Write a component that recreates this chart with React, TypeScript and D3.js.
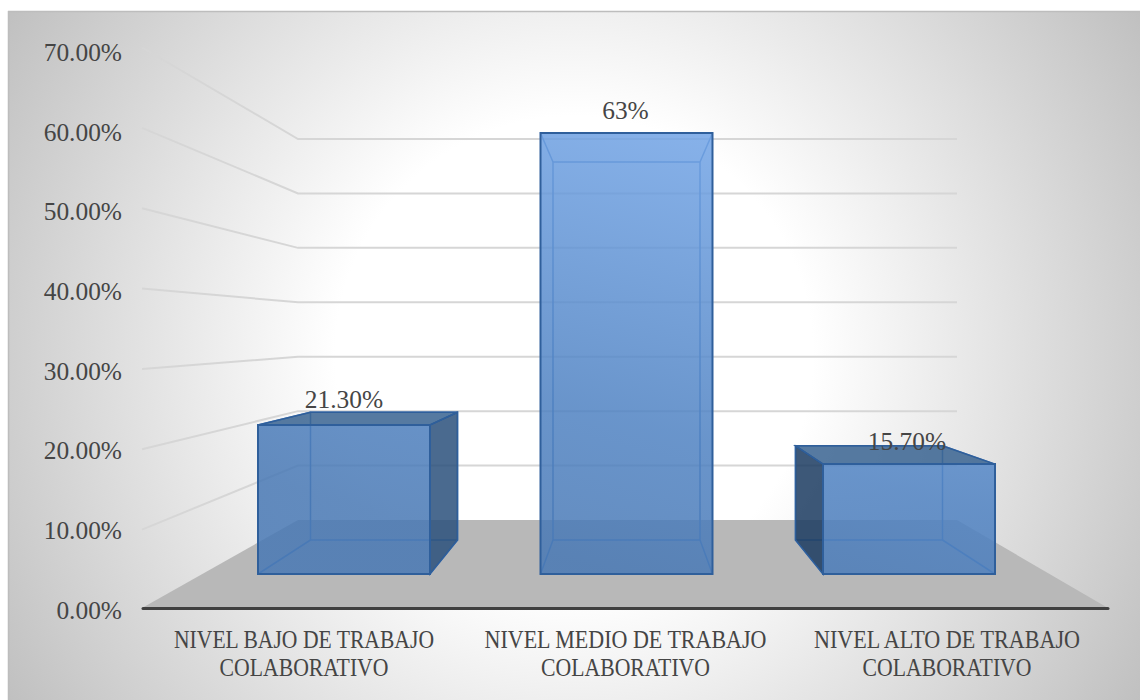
import React from "react";
import * as d3 from "d3";

const categories = ["NIVEL BAJO DE TRABAJO|COLABORATIVO", "NIVEL MEDIO DE TRABAJO|COLABORATIVO", "NIVEL ALTO DE TRABAJO|COLABORATIVO"];
const values = [21.3, 63, 15.7];
const valueLabels = ["21.30%", "63%", "15.70%"];
const ticks = [0, 10, 20, 30, 40, 50, 60, 70];
const firstLineWidths = [260, 282, 266];
const secondLineWidth = 169;

const W = 1140, H = 700;
const axisY = d3.scaleLinear().domain([0, 70]).range([610, 47.5]);
const labelY = d3.scaleLinear().domain([0, 70]).range([610, 52.5]);
const wallY = d3.scaleLinear().domain([0, 70]).range([520, 139]);
const barFrontY = d3.scaleLinear().domain([0, 70]).range([574, 84]);
const barBackY = d3.scaleLinear().domain([0, 70]).range([540, 120]);
const frontX = d3.scalePoint<string>().domain(categories).range([344, 909]);
const backX = d3.scalePoint<string>().domain(categories).range([384, 869]);
const labelX = d3.scalePoint<string>().domain(categories).range([304, 947]);
const FRONT_W = 172, BACK_W = 147;
const line = d3.line();
const poly = (p: [number, number][]) => line(p) + "Z";
const FONT = "'Liberation Serif', serif";
const TEXT = "#454545";

export default function App() {
  return (
    <svg width={W} height={H} style={{ position: "absolute", left: 0, top: 0 }}>
      <defs>
        <radialGradient id="bg" gradientUnits="userSpaceOnUse" cx={574} cy={355} r={663}>
          <stop offset="0.36" stopColor="#ffffff" />
          <stop offset="1" stopColor="#c0c0c0" />
        </radialGradient>
        <linearGradient id="front" gradientUnits="userSpaceOnUse" x1={760} y1={120} x2={640} y2={580}>
          <stop offset="0" stopColor="#75a7e9" />
          <stop offset="0.68" stopColor="#4f82c2" />
          <stop offset="1" stopColor="#4878b4" />
        </linearGradient>
      </defs>
      <rect x={8} y={11} width={W - 8} height={H - 11} fill="url(#bg)" />
      <line x1={8} y1={11.5} x2={W} y2={11.5} stroke="#bdbdbd" strokeWidth={1.5} />
      <line x1={8.5} y1={11} x2={8.5} y2={H} stroke="#bdbdbd" strokeWidth={1.5} />

      <path d={poly([[142, 608], [298, 520], [957, 520], [1108, 608]])} fill="#b8b8b8" />
      {ticks.slice(1).map((t) => (
        <path key={t} fill="none" stroke="#d6d6d6" strokeWidth={2}
          d={line([[142, axisY(t)], [298, wallY(t)], [957, wallY(t)]]) as string} />
      ))}
      <line x1={143} y1={608.5} x2={1108} y2={608.5} stroke="#404040" strokeWidth={3} strokeLinecap="round" />

      {ticks.map((t) => (
        <text key={t} x={122} y={labelY(t) + 8.5} textAnchor="end" fontFamily={FONT} fontSize={25.4} fill={TEXT}>
          {t.toFixed(2)}%
        </text>
      ))}

      {categories.map((c, i) => {
        const v = values[i];
        const fl = frontX(c)! - FRONT_W / 2, fr = fl + FRONT_W;
        const bl = backX(c)! - BACK_W / 2, br = bl + BACK_W;
        const ft = barFrontY(v), fb = barFrontY(0);
        const bt = barBackY(v), bb = barBackY(0);
        const edge = { stroke: "#4d7fbf", strokeWidth: 1.5, fill: "none" };
        return (
          <g key={c}>
            <path d={poly([[bl, bt], [br, bt], [br, bb], [bl, bb]])} {...edge} />
            <path d={line([[fl, fb], [bl, bb]]) as string} {...edge} />
            <path d={line([[fr, fb], [br, bb]]) as string} {...edge} />
            <path d={line([[fl, ft], [bl, bt]]) as string} {...edge} />
            <path d={line([[fr, ft], [br, bt]]) as string} {...edge} />
            {bl < fl && (
              <path d={poly([[bl, bt], [fl, ft], [fl, fb], [bl, bb]])} fill="#1b3b60" fillOpacity={0.85} stroke="#2f5f9b" strokeWidth={1.5} />
            )}
            {br > fr && (
              <path d={poly([[fr, ft], [br, bt], [br, bb], [fr, fb]])} fill="#2a507b" fillOpacity={0.85} stroke="#2f5f9b" strokeWidth={1.5} />
            )}
            {bt < ft && (
              <path d={poly([[fl, ft], [bl, bt], [br, bt], [fr, ft]])} fill="#386391" fillOpacity={0.85} stroke="#2f5f9b" strokeWidth={1.5} />
            )}
            <path d={poly([[fl, ft], [fr, ft], [fr, fb], [fl, fb]])} fill="url(#front)" fillOpacity={0.85} stroke="#2f5f9b" strokeWidth={2} />
          </g>
        );
      })}

      {categories.map((c, i) => (
        <text key={c} textAnchor="middle" fontFamily={FONT} fontSize={25.4} fill={TEXT}
          x={frontX(c)! + (i === 1 ? -1 : i === 2 ? -2 : 0)}
          y={(i === 2 ? barBackY(values[i]) + 4 : Math.min(barFrontY(values[i]), barBackY(values[i])) - (i === 1 ? 14 : 4))}>
          {valueLabels[i]}
        </text>
      ))}

      {categories.map((c, i) =>
        c.split("|").map((s, j) => (
          <text key={s + i} x={labelX(c)} y={648 + j * 28} textAnchor="middle" fontFamily={FONT} fontSize={24.5} fill={TEXT}
            textLength={j === 0 ? firstLineWidths[i] : secondLineWidth} lengthAdjust="spacingAndGlyphs">
            {s}
          </text>
        ))
      )}
    </svg>
  );
}
